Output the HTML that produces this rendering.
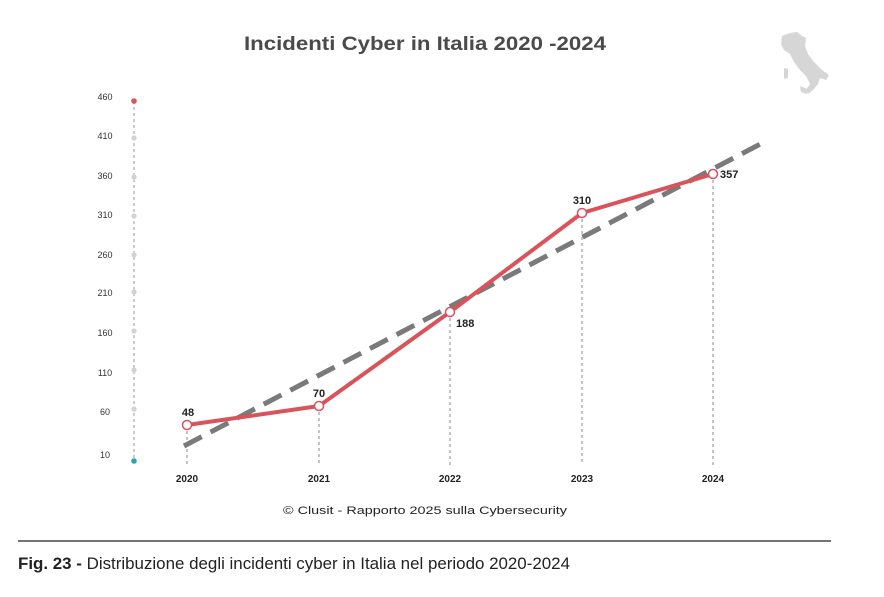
<!DOCTYPE html>
<html><head><meta charset="utf-8"><style>
html,body{margin:0;padding:0;background:#fff;}
svg{display:block;font-family:"Liberation Sans",sans-serif;}
</style></head><body>
<svg width="884" height="597" viewBox="0 0 884 597" xmlns="http://www.w3.org/2000/svg">
<rect width="884" height="597" fill="#fff"/>
<text x="425" y="50" text-anchor="middle" font-size="19" font-weight="bold" fill="#4a4a4a" textLength="362" lengthAdjust="spacingAndGlyphs">Incidenti Cyber in Italia 2020 -2024</text>
<!-- Italy silhouette -->
<path d="M782,36 L790,33 L797,32 L802,36 L806,38 L805,46 L808,54 L814,62 L822,70 L829,75 L826,80 L820,78 L818,84 L813,90 L808,94 L806,90 L810,84 L806,76 L800,70 L794,62 L790,54 L784,50 L781,44 Z M784,68 L788,69 L788,78 L784,79 Z M800,86 L810,90 L806,94 L801,92 Z" fill="#d6d6d6"/>
<!-- y axis -->
<line x1="134" y1="101" x2="134" y2="461" stroke="#999" stroke-width="1" stroke-dasharray="3,3"/>
<g fill="#d2d2d2">
<circle cx="134" cy="138" r="2.6"/><circle cx="134" cy="177" r="2.6"/><circle cx="134" cy="216" r="2.6"/>
<circle cx="134" cy="255" r="2.6"/><circle cx="134" cy="292" r="2.6"/><circle cx="134" cy="331" r="2.6"/>
<circle cx="134" cy="370" r="2.6"/><circle cx="134" cy="409" r="2.6"/></g>
<circle cx="134" cy="101" r="2.8" fill="#d9535b"/>
<circle cx="134" cy="461" r="2.8" fill="#2aa3b3"/>
<g font-size="9" fill="#333" text-anchor="middle">
<text x="105" y="100">460</text><text x="105" y="139">410</text><text x="105" y="179">360</text>
<text x="105" y="218">310</text><text x="105" y="258">260</text><text x="105" y="296">210</text>
<text x="105" y="336">160</text><text x="105" y="376">110</text><text x="105" y="415">60</text>
<text x="105" y="458">10</text></g>
<!-- vertical dashed guides -->
<g stroke="#888" stroke-width="1" stroke-dasharray="3,3">
<line x1="187" y1="425" x2="187" y2="465"/><line x1="319" y1="406" x2="319" y2="465"/>
<line x1="450" y1="312" x2="450" y2="465"/><line x1="582" y1="213" x2="582" y2="465"/>
<line x1="713" y1="174" x2="713" y2="465"/></g>
<!-- trend -->
<line x1="184" y1="446" x2="768" y2="140" stroke="#7a7a7a" stroke-width="5" stroke-dasharray="20,10"/>
<!-- series -->
<polyline points="187,425 319,406 450,312 582,213 713,174" fill="none" stroke="#d9535b" stroke-width="4" stroke-linejoin="round"/>
<g fill="#fff" stroke="#d9535b" stroke-width="1.5">
<circle cx="187" cy="425" r="4.5"/><circle cx="319" cy="406" r="4.5"/><circle cx="450" cy="312" r="4.5"/>
<circle cx="582" cy="213" r="4.5"/><circle cx="713" cy="174" r="4.5"/></g>
<g font-size="11" font-weight="bold" fill="#222">
<text x="188" y="416" text-anchor="middle">48</text>
<text x="319" y="397" text-anchor="middle">70</text>
<text x="456" y="327">188</text>
<text x="582" y="204" text-anchor="middle">310</text>
<text x="720" y="178">357</text></g>
<g font-size="10" font-weight="bold" fill="#222" text-anchor="middle">
<text x="187" y="482">2020</text><text x="319" y="482">2021</text><text x="450" y="482">2022</text>
<text x="582" y="482">2023</text><text x="713" y="482">2024</text></g>
<text x="425" y="514" text-anchor="middle" font-size="11" fill="#222" textLength="284" lengthAdjust="spacingAndGlyphs">© Clusit - Rapporto 2025 sulla Cybersecurity</text>
<line x1="18" y1="541" x2="831" y2="541" stroke="#222" stroke-width="1.2"/>
<text x="18" y="569" font-size="17" fill="#222" textLength="552" lengthAdjust="spacingAndGlyphs"><tspan font-weight="bold">Fig. 23 -</tspan> Distribuzione degli incidenti cyber in Italia nel periodo 2020-2024</text>
</svg>
</body></html>
